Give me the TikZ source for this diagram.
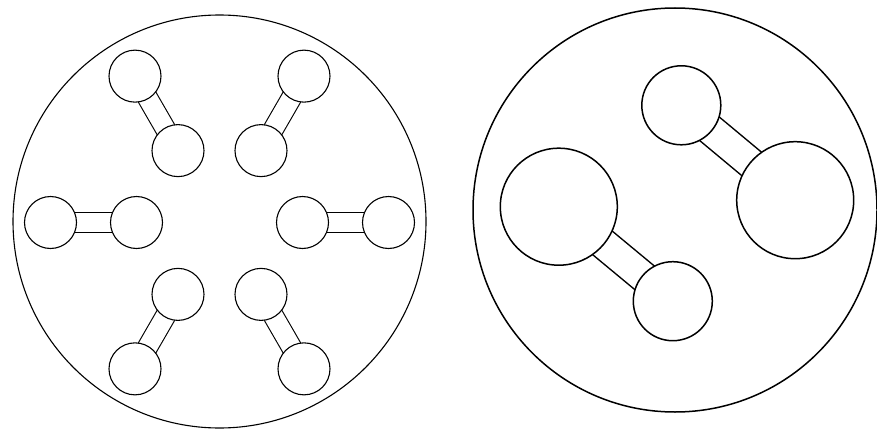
\documentclass[tikz,border=0pt]{standalone}
\usetikzlibrary{calc,backgrounds}
\tikzset{
  atom/.style={circle, draw, fill=white, inner sep=0pt, minimum size=#1},
  cell/.style={circle, draw, inner sep=0pt, minimum size=#1},
  bond/.style n args={2}{line width=#1, postaction={draw=white, line width=#2}},
}

\begin{document}
\begin{tikzpicture}[x=1pt, y=-1pt, line width=1.1pt]
	\useasboundingbox (0,0) rectangle (877,428);

	% left: six dumbbells
	\node[cell=413pt] (cellL) at (219.5,221.5) {};
	\coordinate (ctrL) at (219.5,222.5);
	\foreach \a in {0,60,...,300} {
		\node[atom=52pt] (in\a) at ($(ctrL)+(\a:83)$) {};
		\node[atom=52pt] (out\a) at ($(ctrL)+(\a:169)$) {};
		\begin{scope}[on background layer]
			\draw[bond={21.2pt}{19pt}] (in\a.center) -- (out\a.center);
		\end{scope}
	}

	% right: two unequal dumbbells
	\begin{scope}[line width=1.5pt]
		\node[cell=404pt] (cellR) at (675,210) {};
		\node[atom=79pt] (smallA) at (681.3,105.3) {};
		\node[atom=117pt] (bigA) at (795.2,200.2) {};
		\node[atom=117pt] (bigB) at (558.8,206.7) {};
		\node[atom=79pt] (smallB) at (672.8,301.2) {};
		\begin{scope}[on background layer]
			\draw[bond={32pt}{29pt}] (smallA.center) -- (bigA.center);
			\draw[bond={32pt}{29pt}] (bigB.center) -- (smallB.center);
		\end{scope}
	\end{scope}
\end{tikzpicture}
\end{document}
